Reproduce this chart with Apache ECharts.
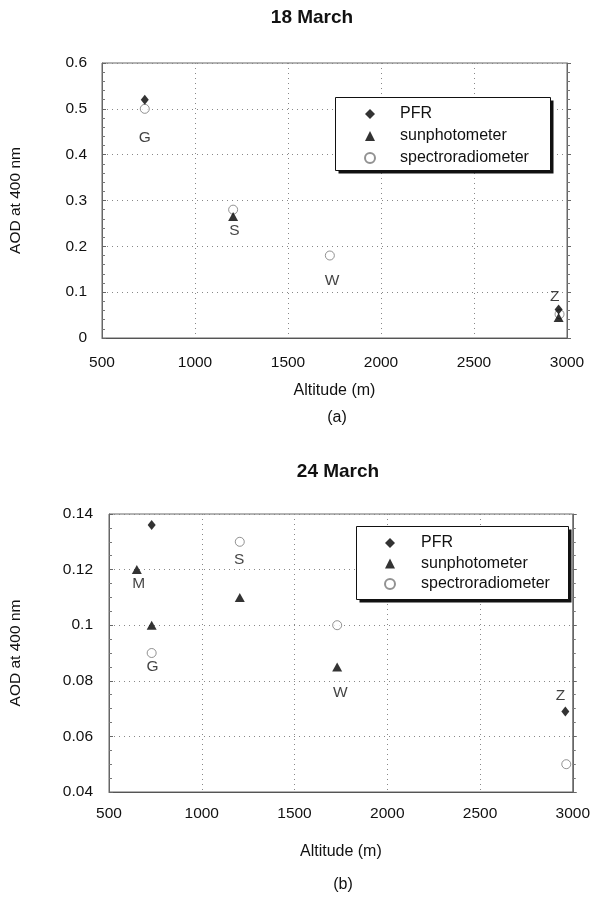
<!DOCTYPE html>
<html>
<head>
<meta charset="utf-8">
<script src="https://cdn.jsdelivr.net/npm/echarts@6/dist/echarts.min.js"></script>
<style>
html,body{margin:0;padding:0;background:#fff;}
#c{width:593px;height:902px;}
</style>
</head>
<body>
<div id="c"></div>
<script>
// ---- data: 18 March (panel a) ----
var marPfrA = [[730, 0.52], [2955, 0.062]];
var marSunA = [[1205, 0.265], [2955, 0.045]];
var marSpecA = [[730, 0.50], [1205, 0.28], [1725, 0.18], [2960, 0.052]];
var siteNamesA = ['G', 'S', 'W', 'Z'];
var sitePosA = [[730, 0.437], [1212, 0.233], [1737, 0.124], [2934, 0.091]];

// ---- data: 24 March (panel b) ----
var marPfrB = [[730, 0.136], [2960, 0.069]];
var marSunB = [[650, 0.12], [730, 0.10], [1205, 0.11], [1730, 0.085]];
var marSpecB = [[730, 0.09], [1205, 0.13], [1730, 0.10], [2965, 0.05]];
var siteNamesB = ['M', 'S', 'G', 'W', 'Z'];
var sitePosB = [[660, 0.115], [1202, 0.1234], [735, 0.0852], [1747, 0.0756], [2934, 0.0747]];

// ---- axes ----
var xTicks = [500, 1000, 1500, 2000, 2500, 3000];
var yRangeA = [0, 0.6, 0.1];
var yRangeB = [0.04, 0.14, 0.02];
var titles = ['18 March', '24 March'];
var panelTags = ['(a)', '(b)'];
var seriesNames = ['PFR', 'sunphotometer', 'spectroradiometer'];

var FONT = 'Liberation Sans, Arial, sans-serif';
var chart = echarts.init(document.getElementById('c'));

function xAxisFor(gi, margin, nameGap) {
  return {
    type: 'value', gridIndex: gi, min: xTicks[0], max: xTicks[xTicks.length - 1], interval: 500,
    name: 'Altitude (m)', nameLocation: 'middle', nameGap: nameGap,
    nameTextStyle: {fontFamily: FONT, fontSize: 16, color: '#111'},
    axisLine: {show: true, lineStyle: {color: '#555', width: 1}},
    axisTick: {show: false},
    axisLabel: {fontFamily: FONT, fontSize: 15.5, color: '#111', margin: margin,
      formatter: function (v) { return String(v); }},
    splitLine: {show: true, lineStyle: {color: '#888', type: [1, 4], width: 1}}
  };
}
function yAxisFor(gi, r, minorN, margin, nameGap) {
  return {
    type: 'value', gridIndex: gi, min: r[0], max: r[1], interval: r[2],
    name: 'AOD at 400 nm', nameLocation: 'middle', nameGap: nameGap,
    nameTextStyle: {fontFamily: FONT, fontSize: 15.5, color: '#111'},
    axisLine: {show: true, lineStyle: {color: '#666', width: 1}},
    axisTick: {show: true, inside: true, length: 4, lineStyle: {color: '#666'}},
    minorTick: {show: true, splitNumber: minorN, length: 3, lineStyle: {color: '#777'}},
    axisLabel: {fontFamily: FONT, fontSize: 15.5, color: '#111', margin: margin},
    splitLine: {show: true, lineStyle: {color: '#888', type: [1, 4], width: 1}}
  };
}
function yMirror(gi, r, minorN) {
  return {
    type: 'value', gridIndex: gi, min: r[0], max: r[1], interval: r[2], position: 'right',
    axisLine: {show: true, lineStyle: {color: '#666', width: 1}},
    axisTick: {show: true, inside: false, length: 4, lineStyle: {color: '#666'}},
    minorTick: {show: true, splitNumber: minorN, length: 3, lineStyle: {color: '#777'}},
    axisLabel: {show: false}, splitLine: {show: false}
  };
}

function markSeries(name, data, xi, yi) {
  var s = {name: name, type: 'scatter', xAxisIndex: xi, yAxisIndex: yi, data: data, z: 3};
  if (name === 'PFR') {
    s.symbol = 'diamond'; s.symbolSize = [8, 10];
    s.itemStyle = {color: '#000'};
    s.z = 4;
  } else if (name === 'sunphotometer') {
    s.symbol = 'triangle'; s.symbolSize = [10, 9];
    s.itemStyle = {color: '#000'};
    s.z = 5;
  } else {
    s.symbol = 'circle'; s.symbolSize = 9;
    s.itemStyle = {color: '#fff', borderColor: '#777', borderWidth: 1};
  }
  return s;
}
function labelSeries(names, pos, xi, yi) {
  return {
    name: 'sites', type: 'scatter', xAxisIndex: xi, yAxisIndex: yi, symbolSize: 0, silent: true,
    data: names.map(function (n, i) { return {name: n, value: pos[i]}; }),
    label: {show: true, position: 'inside', formatter: '{b}', fontFamily: FONT, fontSize: 15.5, color: '#111'},
    z: 6
  };
}
function legendFor(left, top, gap, textPad) {
  return {
    data: seriesNames, orient: 'vertical', left: left, top: top,
    itemWidth: 10, itemHeight: 10, itemGap: gap, padding: 0,
    z: 20,
    textStyle: {fontFamily: FONT, fontSize: 16, color: '#111', padding: [0, 0, 0, textPad], lineHeight: 16},
    selectedMode: false
  };
}
function boxFor(x, y, w, h) {
  return [
    {type: 'rect', z: 10, shape: {x: x + 3, y: y + 3, width: w, height: h}, style: {fill: '#111'}},
    {type: 'rect', z: 11, shape: {x: x, y: y, width: w, height: h}, style: {fill: '#fff', stroke: '#111', lineWidth: 1}}
  ];
}

var graphics = [
  {type: 'text', x: 312, y: 18, style: {text: titles[0], font: 'bold 19px ' + FONT, fill: '#111', align: 'center', verticalAlign: 'middle'}},
  {type: 'text', x: 338, y: 472, style: {text: titles[1], font: 'bold 19px ' + FONT, fill: '#111', align: 'center', verticalAlign: 'middle'}},
  {type: 'text', x: 337, y: 418, style: {text: panelTags[0], font: '16px ' + FONT, fill: '#111', align: 'center', verticalAlign: 'middle'}},
  {type: 'text', x: 343, y: 885, style: {text: panelTags[1], font: '16px ' + FONT, fill: '#111', align: 'center', verticalAlign: 'middle'}}
].concat(boxFor(335.5, 97.5, 215, 73)).concat(boxFor(356.5, 526.5, 212, 73));

var option = {
  animation: false,
  backgroundColor: '#fff',
  grid: [
    {left: 100, right: 26, top: 63, height: 275, show: true, borderColor: '#666', borderWidth: 1, backgroundColor: 'transparent'},
    {left: 107, right: 17, top: 514, height: 278, show: true, borderColor: '#666', borderWidth: 1, backgroundColor: 'transparent'}
  ],
  xAxis: [xAxisFor(0, 17, 45), xAxisFor(1, 14, 52)],
  yAxis: [yAxisFor(0, yRangeA, 5, 15, 78), yMirror(0, yRangeA, 5), yAxisFor(1, yRangeB, 4, 16, 85), yMirror(1, yRangeB, 4)],
  legend: [legendFor(364, 106, 6, 20), legendFor(384, 535, 4.5, 21)],
  graphic: graphics,
  series: [
    markSeries('spectroradiometer', marSpecA, 0, 0),
    markSeries('PFR', marPfrA, 0, 0),
    markSeries('sunphotometer', marSunA, 0, 0),
    labelSeries(siteNamesA, sitePosA, 0, 0),
    markSeries('spectroradiometer', marSpecB, 1, 2),
    markSeries('PFR', marPfrB, 1, 2),
    markSeries('sunphotometer', marSunB, 1, 2),
    labelSeries(siteNamesB, sitePosB, 1, 2)
  ]
};
chart.setOption(option);
</script>
</body>
</html>
